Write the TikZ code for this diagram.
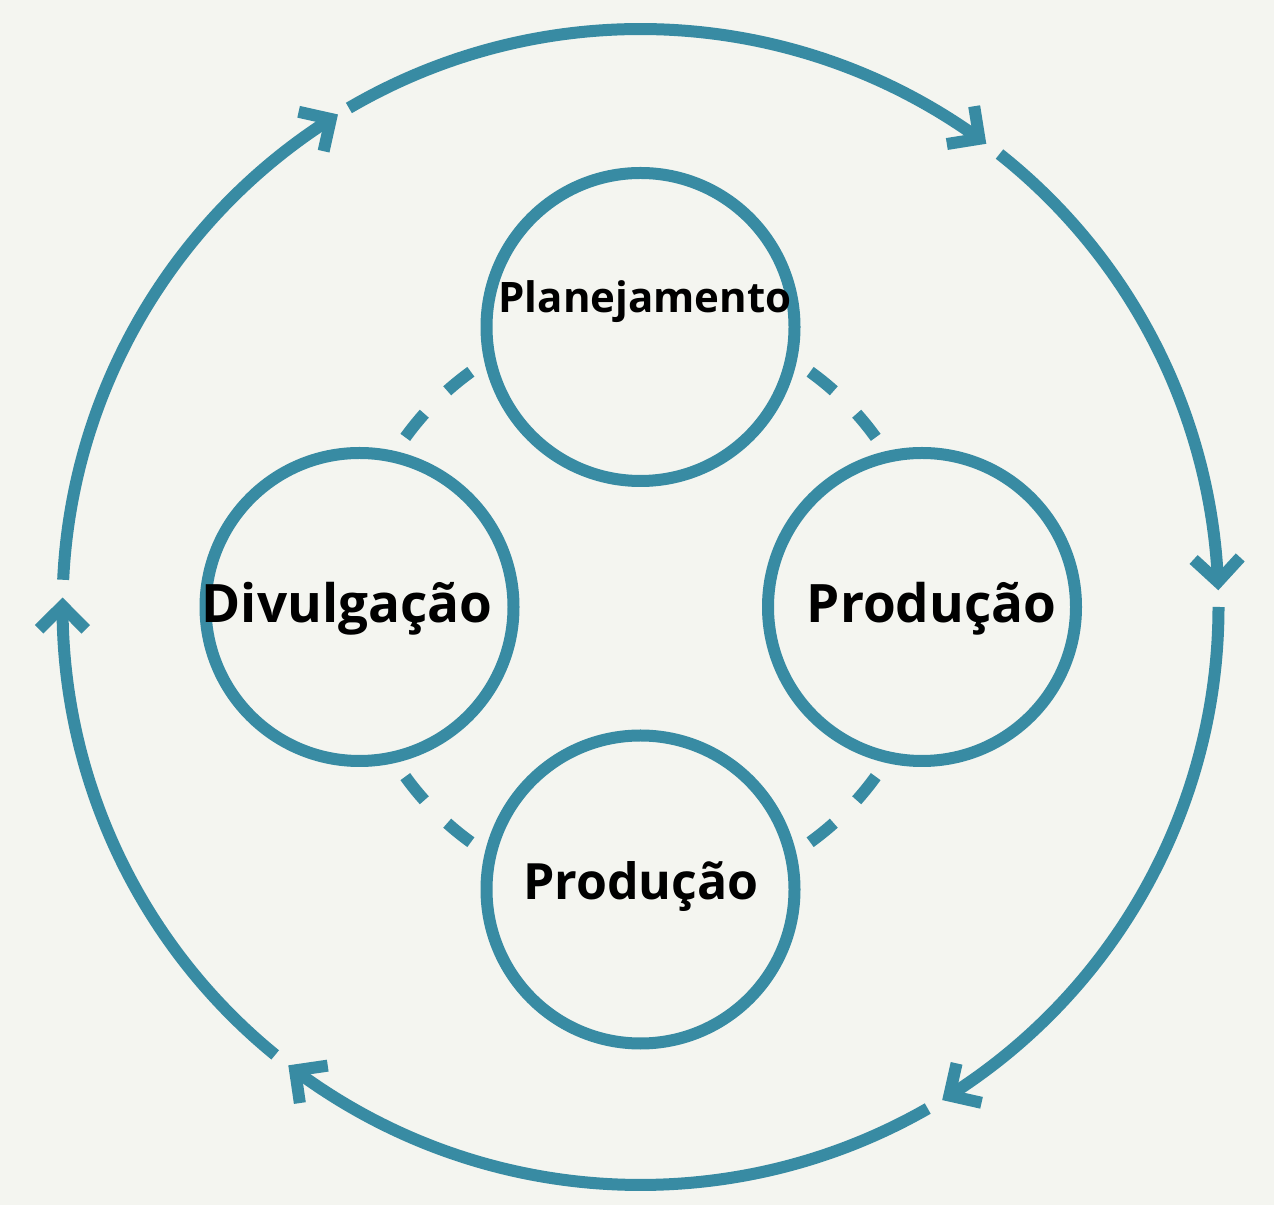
\documentclass[tikz,border=0pt]{standalone}
\usepackage{fontspec}
\setmainfont{Open Sans}
\usetikzlibrary{calc}
\definecolor{bgc}{HTML}{F4F5F0}
\definecolor{ringc}{HTML}{388BA3}
\begin{document}
\begin{tikzpicture}[x=1pt,y=1pt,
  ring/.style={draw=ringc, line width=12pt, line cap=butt},
  stage/.style={circle, draw=ringc, line width=12pt, fill=bgc, minimum size=308pt, inner sep=0pt},
  lbl/.style={font=\bfseries\fontsize{53}{60}\selectfont, text=black, inner sep=0pt, anchor=base},
  midlbl/.style={lbl, font=\bfseries\fontsize{50}{56}\selectfont},
  smalllbl/.style={lbl, font=\bfseries\fontsize{42}{48}\selectfont}]
\fill[bgc] (0,0) rectangle (1274,1205);
\useasboundingbox (0,0) rectangle (1274,1205);
\coordinate (c) at (640.5,598);
% outer cycle of arrows
\foreach \s/\e in {120.3/54.1, 51.6/2.5, 0/-57.7, -60.2/-126.7, -129.2/-180.1, 177.3/122.4} {
  \draw[ring] ($(c)+(\s:578pt)$) arc[start angle=\s, end angle=\e, radius=578pt];
  \draw[ring, line join=miter] ($(c)+(\e:578pt)+({\e+45}:33pt)$) -- ($(c)+(\e:578pt)$) -- ($(c)+(\e:578pt)+({\e+135}:33pt)$);
}
% dashed inner ring
\foreach \m in {45,135,225,315} {
  \foreach \a/\b in {-9.2/-3.2, 3.2/9.2} {
    \draw[ring] ($(c)+({\m+\a}:290pt)$) arc[start angle={\m+\a}, end angle={\m+\b}, radius=290pt];
  }
}
% stages
\node[stage] (top) at (640.5,878) {};
\node[stage] (left) at (359.5,598) {};
\node[stage] (right) at (922,598) {};
\node[stage] (bottom) at (640.5,315.5) {};
% labels
\node[smalllbl] (tplan) at (645,892) {Planejamento};
\node[lbl] (tdiv) at (347,582) {Divulgação};
\node[lbl] (tprodr) at (931.5,582) {Produção};
\node[midlbl] (tprodb) at (641,305) {Produção};
\end{tikzpicture}
\end{document}
